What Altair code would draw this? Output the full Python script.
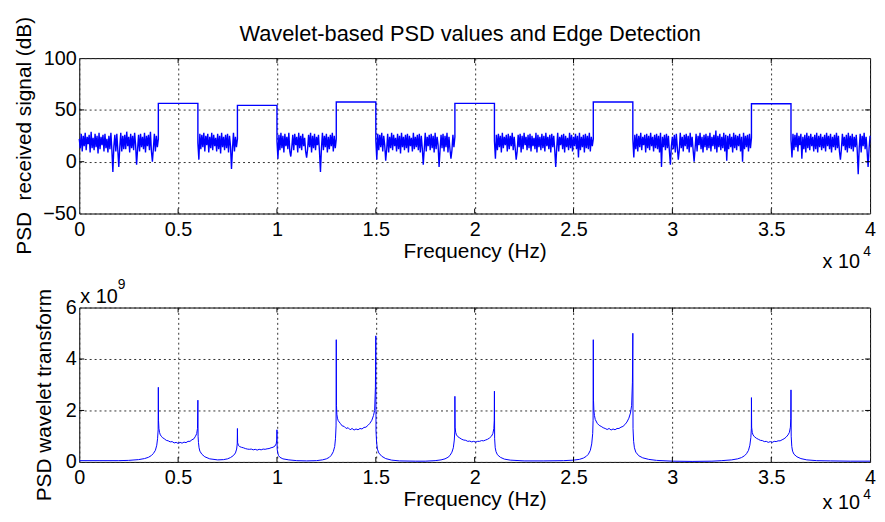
import altair as alt
import pandas as pd

FONT = "Liberation Sans"
BLUE = "#0000ff"

# ---------------- top panel: received signal PSD (dB) ----------------
# noise-floor readings (every 50 Hz) for each gap between occupied bands
noise_0_4000 = [22, 13, 27, 10, 25, 15, 28, 11, 24, 17, 26, 9, 29, 13, 23, 11, 27, 14, 25, 8,
                28, 12, 24, 16, 26, 10, 27, 13, 22, 9, 25, 12, 28, 11, -10, 15, 26, 10, 27, 11,
                -5, 14, 28, 10, 25, 12, 26, 12, 29, 15, 24, 9, 27, 13, 25, 11, 28, 16, -3, 12,
                26, 10, 27, 14, 24, 12, 28, 9, 25, 15, 26, 11, 29, 10, 0, 13, 27, 10, 25, 14, 22]
noise_6000_8000 = [18, 2, 27, 12, 26, 14, 28, 10, 25, 16, 27, 9, 24, 13, 28, 11, 26, 15, 23, 10,
                   27, 12, 25, 8, 28, 14, 24, 11, 26, 13, 27, 9, 25, 15, -7, 12, 28, 10, 24, 14, 22]
noise_10000_13000 = [20, 3, 26, 11, 28, 13, 25, 9, 27, 15, 24, 12, 28, 10, 5, 14, 26, 11, 27, 16,
                     24, 9, 28, 13, 25, 11, 27, 15, 23, 10, 4, 12, 26, 14, 28, 9, 25, 13, 27, 11,
                     24, 16, 26, 10, -10, 13, 28, 11, 25, 14, 27, 9, 24, 12, 26, 15, 28, 10, 25, 13, 22]
noise_15000_19000 = [21, 2, 27, 11, 26, 14, 28, 10, 25, 16, 1, 12, 27, 9, 24, 13, 28, 11, 26, 15,
                     23, 10, 27, 12, 25, 8, 28, 14, 24, 11, 26, 13, 27, 9, 25, 15, 23, 10, 28, 12,
                     24, 14, 26, 11, 27, 9, 25, 13, -3, 12, 28, 10, 24, 15, 26, 11, 27, 13, 25, 9,
                     28, 12, 24, 16, -5, 11, 26, 13, 27, 10, 25, 14, 28, 9, 24, 12, 3, 11, 26, 14, 24]
noise_21000_26000 = [20, 3, 26, 11, 27, 14, 25, 9, 28, 13, 24, 16, 26, 10, 27, 12, 25, 15, 28, 11,
                     24, 13, 2, 10, 26, 14, 27, 9, 25, 12, 28, 16, 24, 11, 26, 13, 27, 10, 25, 15,
                     23, 12, 28, 9, 26, 14, 24, 11, 27, 13, 25, 10, 28, 15, 24, 12, 26, 9, 27, 14,
                     25, 11, -5, 13, 28, 10, 24, 16, 26, 12, 27, 9, 25, 14, 23, 11, 28, 13, 26, 10,
                     24, 15, 27, 12, 25, 4, 28, 11, 24, 14, 26, 9, 27, 13, 25, 12, 28, 10, 24, 15, 22]
noise_28000_34000 = [22, 4, 26, 12, 27, 10, 25, 14, 28, 11, 24, 16, 26, 9, 27, 13, 25, 11, 28, 15,
                     24, 10, 26, 13, 27, 12, 25, 9, 28, -5, 24, 14, 26, 11, 27, 13, 25, 10, -3, 15,
                     24, 12, 26, 9, 27, 14, 2, 11, 28, 13, 24, 10, 26, 15, 27, 12, 25, 9, 28, 14,
                     24, 11, 0, 13, 27, 10, 25, 16, 28, 12, 24, 9, 26, 14, 27, 11, 25, 13, 28, 10,
                     24, 15, 26, 12, 30, 9, 25, 14, 27, 11, 24, 13, 28, 10, 26, 1, 25, 12, 27, 14,
                     24, 9, 28, 13, 26, 11, 25, 15, 27, 10, 24, 0, 28, 12, 25, 14, 26, 10, 27, 13, 23]
noise_36000_40000 = [21, 4, 27, 11, 26, 14, 28, 10, 25, 16, 27, 3, 24, 12, 26, 9, 28, 13, 25, 11,
                     27, 15, 24, 10, 26, 12, 28, 9, 25, 14, 27, 11, 24, 13, 26, 10, 28, 15, 25, 12,
                     27, 9, 24, 14, 26, 11, 28, 13, 25, 10, 2, 12, 27, 15, 24, 11, 26, 9, 28, 13,
                     25, 12, 27, 10, 24, 14, 26, 11, -12, 13, 27, 9, 25, 15, 28, 12, 24, 10, -5, 13, 25]

noise_ranges = [(0, 4000), (6000, 8000), (10000, 13000), (15000, 19000),
                (21000, 26000), (28000, 34000), (36000, 40000)]
noise_values = [noise_0_4000, noise_6000_8000, noise_10000_13000, noise_15000_19000,
                noise_21000_26000, noise_28000_34000, noise_36000_40000]
band_edges = [(4000, 6000), (8000, 10000), (13000, 15000), (19000, 21000),
              (26000, 28000), (34000, 36000)]
band_levels = [56.3, 54.4, 57.6, 56.3, 57.6, 56.0]

# ---------------- bottom panel: wavelet transform PSD (x 1e9) ----------------
wt_band1 = [(0, 0.05), (1000, 0.05), (2000, 0.05), (2500, 0.06), (3000, 0.09), (3300, 0.13),
            (3500, 0.18), (3650, 0.25), (3750, 0.33), (3850, 0.45), (3920, 0.65), (3960, 0.9),
            (3990, 1.25), (4000, 2.9), (4010, 1.6), (4030, 1.3), (4060, 1.15), (4100, 1.05),
            (4150, 1.0), (4200, 0.95), (4300, 0.9), (4400, 0.84), (4500, 0.82), (4600, 0.78),
            (4700, 0.79), (4800, 0.74), (4900, 0.76), (5000, 0.72), (5100, 0.76), (5200, 0.73),
            (5300, 0.77), (5400, 0.75), (5500, 0.8), (5600, 0.8), (5700, 0.86), (5800, 0.9),
            (5880, 1.0), (5940, 1.1), (5980, 1.3), (6000, 2.4), (6010, 1.0), (6030, 0.75),
            (6060, 0.55), (6100, 0.42), (6200, 0.3), (6350, 0.2), (6600, 0.12), (7000, 0.08)]
wt_band2 = [(7300, 0.09), (7500, 0.12), (7650, 0.17), (7800, 0.25), (7900, 0.35), (7960, 0.5),
            (7990, 0.7), (8000, 1.3), (8010, 0.75), (8050, 0.65), (8100, 0.6), (8200, 0.57),
            (8300, 0.55), (8400, 0.52), (8500, 0.5), (8600, 0.49), (8700, 0.5), (8800, 0.47),
            (8900, 0.49), (9000, 0.46), (9100, 0.49), (9200, 0.47), (9300, 0.5), (9400, 0.49),
            (9500, 0.51), (9600, 0.52), (9700, 0.55), (9800, 0.57), (9900, 0.62), (9960, 0.7),
            (9990, 0.85), (10000, 1.25), (10010, 0.5), (10040, 0.35), (10080, 0.25),
            (10150, 0.18), (10300, 0.12), (10600, 0.08), (11000, 0.05), (11500, 0.04)]
wt_band3 = [(12000, 0.05), (12300, 0.08), (12500, 0.12), (12650, 0.18), (12750, 0.26),
            (12850, 0.4), (12920, 0.6), (12960, 0.9), (12990, 1.4), (13000, 4.75), (13010, 2.2),
            (13030, 1.85), (13060, 1.7), (13100, 1.6), (13200, 1.5), (13300, 1.4), (13400, 1.38),
            (13500, 1.3), (13600, 1.33), (13700, 1.25), (13800, 1.3), (13900, 1.24), (14000, 1.28),
            (14100, 1.25), (14200, 1.3), (14300, 1.28), (14400, 1.34), (14500, 1.35), (14600, 1.42),
            (14700, 1.5), (14800, 1.62), (14880, 1.8), (14940, 2.0), (14980, 2.9), (15000, 4.9),
            (15010, 1.2), (15040, 0.75), (15080, 0.5), (15150, 0.35), (15300, 0.22), (15500, 0.13),
            (15800, 0.07), (16200, 0.04), (17000, 0.03)]
wt_band4 = [(17500, 0.03), (18000, 0.05), (18300, 0.08), (18500, 0.12), (18650, 0.18),
            (18750, 0.25), (18850, 0.38), (18920, 0.55), (18970, 0.85), (18995, 1.2), (19000, 2.55),
            (19010, 1.35), (19040, 1.15), (19080, 1.05), (19150, 0.98), (19250, 0.93), (19350, 0.88),
            (19450, 0.85), (19550, 0.84), (19650, 0.8), (19750, 0.81), (19850, 0.78), (19950, 0.8),
            (20050, 0.77), (20150, 0.8), (20250, 0.8), (20350, 0.83), (20450, 0.82), (20550, 0.85),
            (20650, 0.88), (20750, 0.93), (20850, 1.0), (20920, 1.1), (20970, 1.3), (20990, 1.6),
            (21000, 2.75), (21010, 0.9), (21040, 0.55), (21080, 0.4), (21150, 0.28), (21300, 0.18),
            (21500, 0.11), (21800, 0.07), (22500, 0.04), (23500, 0.04)]
wt_band5 = [(24500, 0.05), (25000, 0.07), (25300, 0.1), (25500, 0.15), (25650, 0.22),
            (25750, 0.3), (25850, 0.45), (25920, 0.7), (25970, 1.1), (25990, 1.6), (26000, 4.75),
            (26010, 2.4), (26030, 2.0), (26060, 1.8), (26100, 1.65), (26200, 1.5), (26300, 1.42),
            (26400, 1.38), (26500, 1.33), (26600, 1.3), (26700, 1.26), (26800, 1.3), (26900, 1.24),
            (27000, 1.28), (27100, 1.25), (27200, 1.3), (27300, 1.3), (27400, 1.35), (27500, 1.38),
            (27600, 1.45), (27700, 1.55), (27800, 1.7), (27880, 1.9), (27940, 2.2), (27980, 3.1),
            (28000, 5.0), (28010, 1.3), (28040, 0.8), (28080, 0.55), (28150, 0.38), (28300, 0.24),
            (28500, 0.16), (28800, 0.1), (29200, 0.06), (30000, 0.03), (31000, 0.02)]
wt_band6 = [(32000, 0.03), (32500, 0.05), (33000, 0.08), (33300, 0.12), (33500, 0.17),
            (33650, 0.24), (33750, 0.32), (33850, 0.45), (33920, 0.65), (33970, 0.95), (33995, 1.3),
            (34000, 2.5), (34010, 1.35), (34040, 1.15), (34080, 1.05), (34150, 0.98), (34250, 0.92),
            (34350, 0.88), (34450, 0.84), (34550, 0.83), (34650, 0.79), (34750, 0.8), (34850, 0.76),
            (34950, 0.79), (35050, 0.76), (35150, 0.8), (35250, 0.79), (35350, 0.82), (35450, 0.82),
            (35550, 0.86), (35650, 0.9), (35750, 0.96), (35850, 1.05), (35920, 1.15), (35970, 1.35),
            (35990, 1.7), (36000, 2.8), (36010, 1.0), (36040, 0.6), (36080, 0.42), (36150, 0.3),
            (36300, 0.2), (36500, 0.13), (36800, 0.08), (37300, 0.05), (38000, 0.04),
            (39000, 0.03), (40000, 0.03)]

x_ticks = [0, 5000, 10000, 15000, 20000, 25000, 30000, 35000, 40000]
top_y_ticks = [-50, 0, 50, 100]
bot_y_ticks = [0, 2, 4, 6]

# ---------------- build tables ----------------
rows = []
for k, ((a, b), vals) in enumerate(zip(noise_ranges, noise_values)):
    n = len(vals)
    for j, v in enumerate(vals):
        rows.append((a + (b - a) * j / (n - 1), v))
    if k < len(band_edges):
        (c, d), lvl = band_edges[k], band_levels[k]
        rows.append((c, lvl))
        rows.append((d, lvl))
top_df = pd.DataFrame(rows, columns=["f", "v"])
top_df["i"] = range(len(top_df))

wt_rows = wt_band1 + wt_band2 + wt_band3 + wt_band4 + wt_band5 + wt_band6
bot_df = pd.DataFrame(wt_rows, columns=["f", "v"])
bot_df["i"] = range(len(bot_df))

W, H1, H2 = 799, 157, 156
FS = 20
TFS = 21

xscale = alt.Scale(domain=[0, 40000], nice=False, zero=False)


def x_axis():
    return alt.Axis(values=x_ticks, labelExpr="datum.value / 10000", title="Frequency (Hz)",
                    titleY=44, titleBaseline="alphabetic", labelPadding=22,
                    labelBaseline="alphabetic", tickSize=0, labelFlush=False)


def inward_ticks(yscale, yticks, h):
    xt = pd.DataFrame({"f": x_ticks[1:-1]})
    yt = pd.DataFrame({"v": yticks[1:-1]})
    base_x = alt.Chart(xt).mark_rule(color="black", strokeWidth=1)
    base_y = alt.Chart(yt).mark_rule(color="black", strokeWidth=1)
    return [
        base_x.encode(x=alt.X("f:Q", scale=xscale), y=alt.value(0), y2=alt.value(5)),
        base_x.encode(x=alt.X("f:Q", scale=xscale), y=alt.value(h), y2=alt.value(h - 5)),
        base_y.encode(y=alt.Y("v:Q", scale=yscale), x=alt.value(0), x2=alt.value(5)),
        base_y.encode(y=alt.Y("v:Q", scale=yscale), x=alt.value(W), x2=alt.value(W - 5)),
    ]


def label(text, x, y, size, align="left"):
    return alt.Chart(pd.DataFrame({"s": [text]})).mark_text(
        font=FONT, fontSize=size, color="black", align=align, baseline="alphabetic"
    ).encode(x=alt.value(x), y=alt.value(y), text="s:N")


top_y = alt.Scale(domain=[-50, 100], nice=False, zero=False)
top_line = alt.Chart(top_df).mark_line(color=BLUE, strokeWidth=1.4).encode(
    x=alt.X("f:Q", scale=xscale, axis=x_axis()),
    y=alt.Y("v:Q", scale=top_y,
            axis=alt.Axis(values=top_y_ticks, title="PSD\u00a0 received signal (dB)",
                          titleX=-49, titleY=78, titleAngle=270, titleBaseline="alphabetic",
                          titleAlign="center", labelPadding=3, tickSize=0, labelFlush=False)),
    order="i:Q",
)
top = alt.layer(
    top_line, *inward_ticks(top_y, top_y_ticks, H1),
    label("Wavelet-based PSD values and Edge Detection", 395, -17, 22, "center"),
    label("x 10", 751, H1 + 55, FS), label("4", 792, H1 + 43, 14),
).properties(width=W, height=H1)

bot_y = alt.Scale(domain=[0, 6], nice=False, zero=False)
bot_line = alt.Chart(bot_df).mark_line(color=BLUE, strokeWidth=1).encode(
    x=alt.X("f:Q", scale=xscale, axis=x_axis()),
    y=alt.Y("v:Q", scale=bot_y,
            axis=alt.Axis(values=bot_y_ticks, title="PSD wavelet transform",
                          titleX=-29, titleY=88, titleAngle=270, titleBaseline="alphabetic",
                          titleAlign="center", labelPadding=3, tickSize=0, labelFlush=False)),
    order="i:Q",
)
bottom = alt.layer(
    bot_line, *inward_ticks(bot_y, bot_y_ticks, H2),
    label("x 10", 751, H2 + 48, FS), label("4", 792, H2 + 37, 14),
    label("x 10", 1, -5, FS), label("9", 39, -19, 14),
).properties(width=W, height=H2)

chart = alt.vconcat(top, bottom, spacing=95, bounds="flush").properties(
    padding={"left": 5, "top": 5, "right": 0, "bottom": 0},
    background="white",
).configure_view(
    stroke="black", strokeWidth=1,
).configure_axis(
    domain=False, ticks=False, grid=True, gridColor="#333333", gridDash=[2, 3], gridWidth=1,
    labelFont=FONT, labelFontSize=FS, labelColor="black",
    titleFont=FONT, titleFontSize=TFS, titleFontWeight="normal", titleColor="black",
)

chart.save("out.html", embed_options={"renderer": "svg", "actions": False})
